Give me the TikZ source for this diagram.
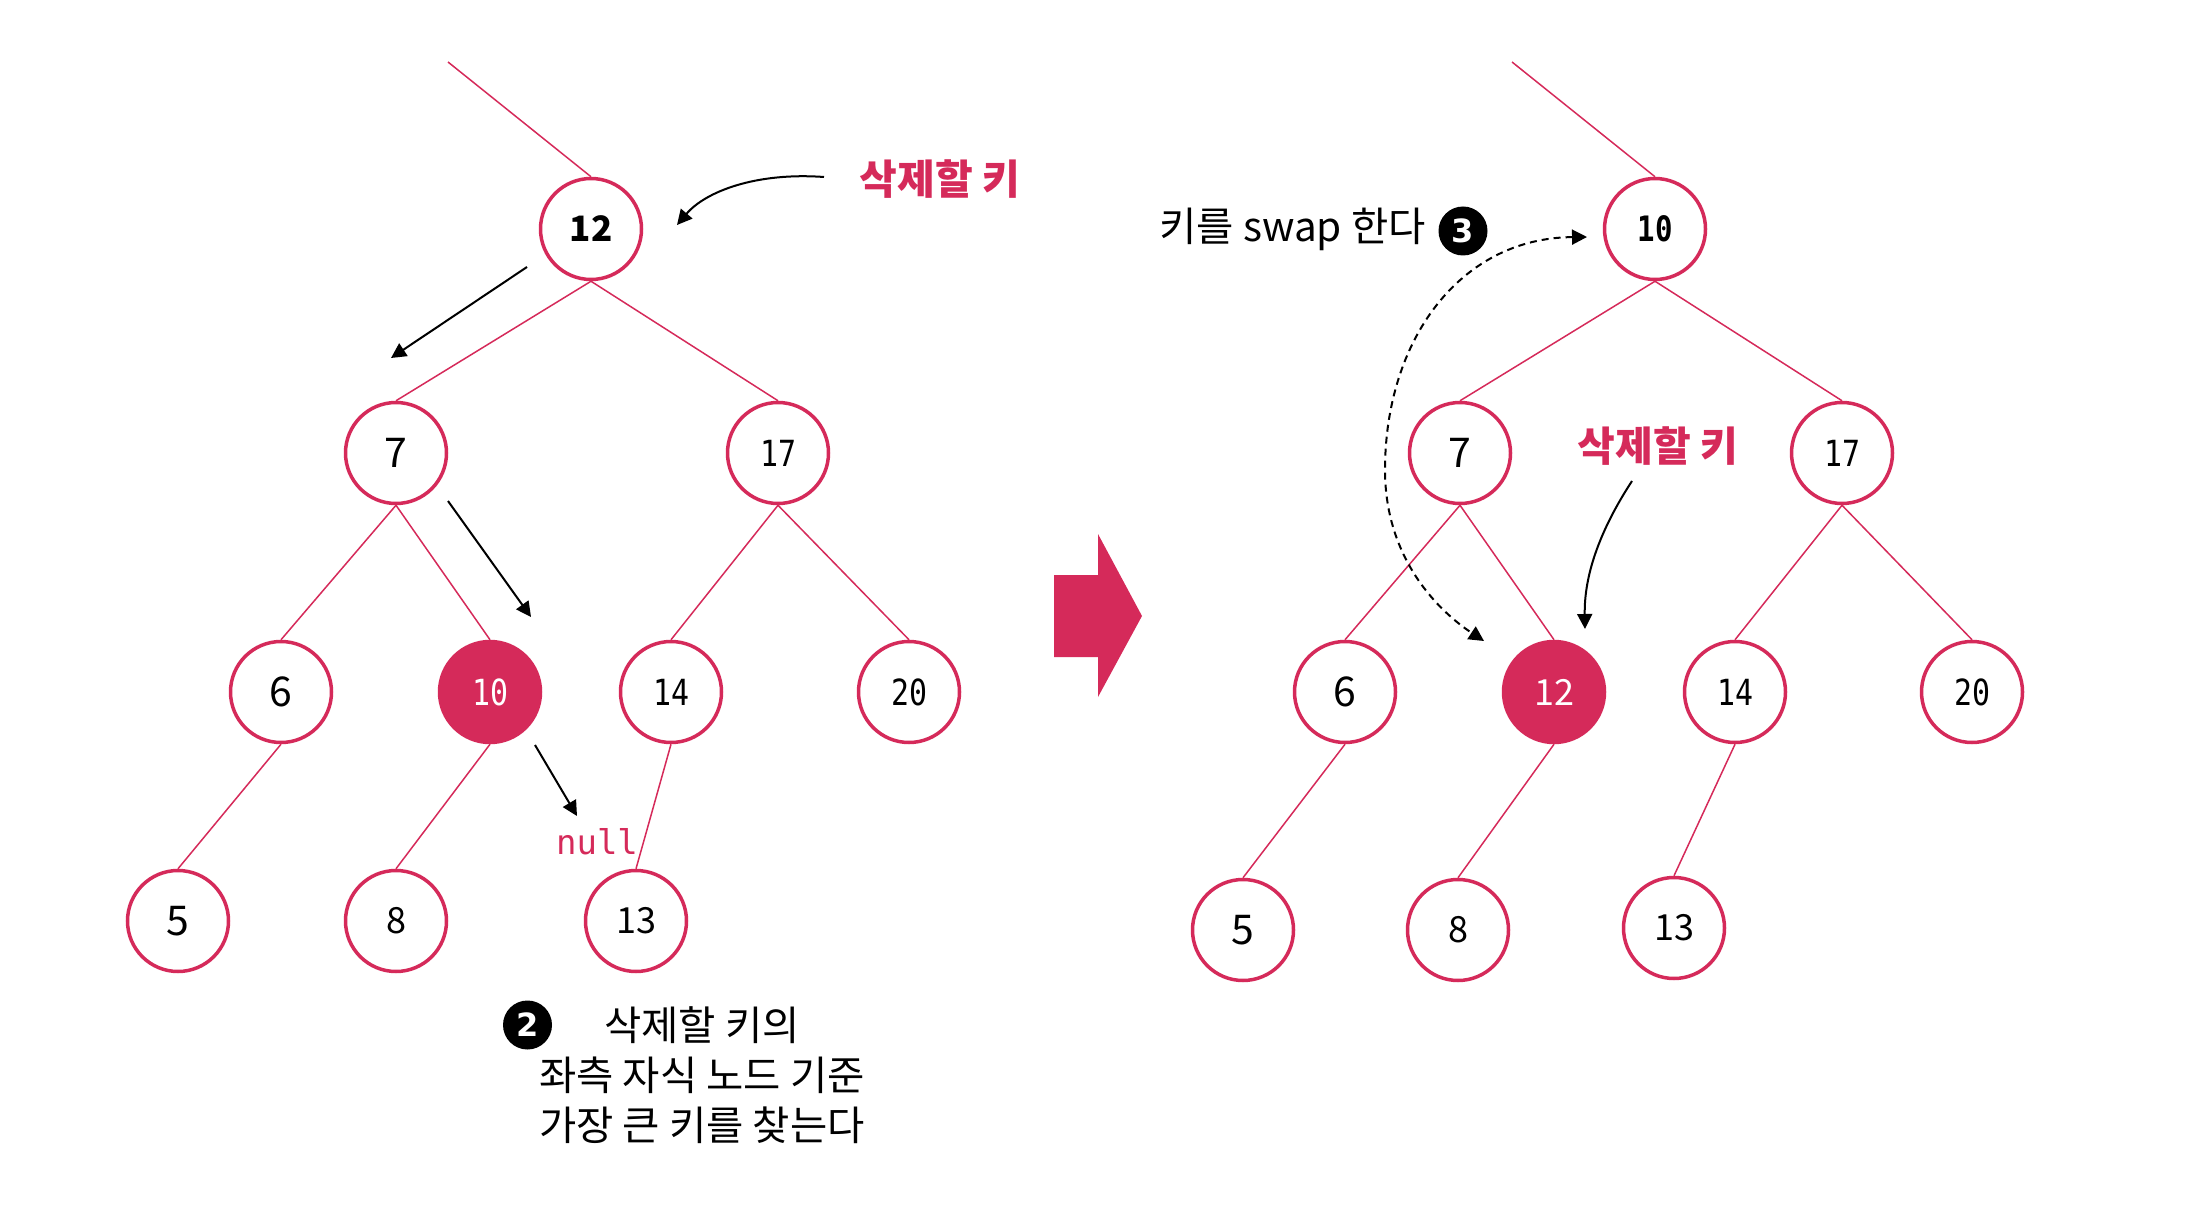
\documentclass[tikz,border=0pt]{standalone}
\usepackage{fontspec}
\usetikzlibrary{arrows.meta}
\setmainfont{Noto Sans CJK KR}
\newfontfamily\krfont{Noto Sans CJK KR}
\newfontfamily\monofont[FakeStretch=0.83]{DejaVu Sans Mono}
\newfontfamily\nulltextfont{DejaVu Sans Mono}
\newfontfamily\numfont{DejaVu Sans}
\definecolor{crim}{HTML}{D52A5A}
\begin{document}
\begin{tikzpicture}[x=1pt,y=-1pt,
  tnode/.style={circle,draw=crim,line width=3.5pt,minimum size=101pt,inner sep=0pt,fill=white,
    font=\monofont\fontsize{36}{36}\selectfont},
  monob/.style={font=\monofont\bfseries\fontsize{35}{35}\selectfont},
  sansbig/.style={font=\krfont\fontsize{41}{41}\selectfont},
  sansmid/.style={font=\krfont\fontsize{36}{36}\selectfont},
  sansbold/.style={font=\krfont\bfseries\fontsize{35}{35}\selectfont},
  hnode/.style={tnode,fill=crim,text=white},
  edge/.style={draw=crim,line width=1.5pt},
  arr/.style={draw=black,line width=2pt,-{Triangle[length=15pt,width=15pt]}},
  darr/.style={draw=black,line width=2pt,dash pattern=on 7pt off 5pt,
    {Triangle[length=15pt,width=15pt]}-{Triangle[length=15pt,width=15pt]}},
  redlabel/.style={text=crim,font=\krfont\bfseries\fontsize{41}{43}\selectfont},
  krtext/.style={font=\krfont\fontsize{40.5}{50}\selectfont},
  numbadge/.style={circle,fill=black,minimum size=49pt,inner sep=0pt,text=white,
    font=\numfont\bfseries\fontsize{32}{32}\selectfont}
]
\useasboundingbox (0,0) rectangle (2190,1230);

% ---------- left tree ----------
\coordinate (Ltop) at (448,62);
\node[tnode,sansbold] (L12) at (591,229) {12};
\node[tnode,sansbig] (L7) at (396,453) {7};
\node[tnode] (L17) at (778,453) {17};
\node[tnode,sansbig] (L6) at (281,692) {6};
\node[hnode] (L10) at (490,692) {10};
\node[tnode] (L14) at (671,692) {14};
\node[tnode] (L20) at (909,692) {20};
\node[tnode,sansbig] (L5) at (178,921) {5};
\node[tnode,sansmid] (L8) at (396,921) {8};
\node[tnode,sansmid] (L13) at (636,921) {13};

\draw[edge] (Ltop) -- (L12.north);
\draw[edge] (L12.south) -- (L7.north);
\draw[edge] (L12.south) -- (L17.north);
\draw[edge] (L7.south) -- (L6.north);
\draw[edge] (L7.south) -- (L10.north);
\draw[edge] (L17.south) -- (L14.north);
\draw[edge] (L17.south) -- (L20.north);
\draw[edge] (L6.south) -- (L5.north);
\draw[edge] (L10.south) -- (L8.north);
\draw[edge] (L14.south) -- (L13.north);

\node[redlabel] (Ldel) at (940,179) {삭제할 키};
\node[text=crim,font=\nulltextfont\fontsize{34}{34}\selectfont] (Lnull) at (597,842) {null};

\coordinate (a1s) at (824,177);
\coordinate (a1e) at (677,225);
\draw[arr] (a1s) .. controls (755,172) and (705,192) .. (a1e);
\coordinate (a2s) at (527,267);
\coordinate (a2e) at (391,358);
\draw[arr] (a2s) -- (a2e);
\coordinate (a3s) at (448,501);
\coordinate (a3e) at (531,617);
\draw[arr] (a3s) -- (a3e);
\coordinate (a4s) at (535,745);
\coordinate (a4e) at (577,816);
\draw[arr] (a4s) -- (a4e);

\node[numbadge] (b2) at (527.5,1025) {2};
\node[krtext,align=center] (desc) at (702,1075) {삭제할 키의\\좌측 자식 노드 기준\\가장 큰 키를 찾는다};

% ---------- big arrow ----------
\fill[crim] (1054,575) -- (1098,575) -- (1098,534) -- (1142,616) -- (1098,697) -- (1098,657) -- (1054,657) -- cycle;

% ---------- right tree ----------
\coordinate (Rtop) at (1512,62);
\node[tnode,monob] (R10) at (1655,229) {10};
\node[tnode,sansbig] (R7) at (1460,453) {7};
\node[tnode] (R17) at (1842,453) {17};
\node[tnode,sansbig] (R6) at (1345,692) {6};
\node[hnode,sansmid] (R12) at (1554,692) {12};
\node[tnode] (R14) at (1735,692) {14};
\node[tnode] (R20) at (1972,692) {20};
\node[tnode,sansbig] (R5) at (1243,930) {5};
\node[tnode,sansmid] (R8) at (1458,930) {8};
\node[tnode,sansmid] (R13) at (1674,928) {13};

\draw[edge] (Rtop) -- (R10.north);
\draw[edge] (R10.south) -- (R7.north);
\draw[edge] (R10.south) -- (R17.north);
\draw[edge] (R7.south) -- (R6.north);
\draw[edge] (R7.south) -- (R12.north);
\draw[edge] (R17.south) -- (R14.north);
\draw[edge] (R17.south) -- (R20.north);
\draw[edge] (R6.south) -- (R5.north);
\draw[edge] (R12.south) -- (R8.north);
\draw[edge] (R14.south) -- (R13.north);

\node[krtext,anchor=west] (swap) at (1156,229) {키를 swap 한다};
\node[numbadge] (b3) at (1463,231) {3};
\node[redlabel] (Rdel) at (1658,446) {삭제할 키};

\coordinate (d1) at (1587,237);
\coordinate (d2) at (1484,641);
\draw[darr] (d1) .. controls (1460,238) and (1385,340) .. (1385,470)
  .. controls (1385,560) and (1440,612) .. (d2);
\coordinate (r1s) at (1632,481);
\coordinate (r1e) at (1585,629);
\draw[arr] (r1s) .. controls (1600,530) and (1584,575) .. (r1e);
\end{tikzpicture}
\end{document}
